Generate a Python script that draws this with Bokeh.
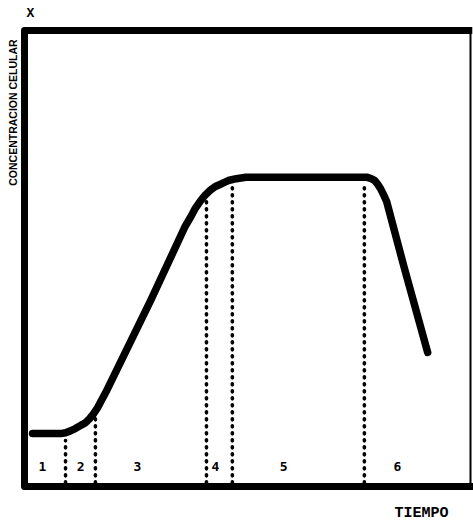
from bokeh.plotting import figure
from bokeh.models import ColumnDataSource, Range1d, Label
from bokeh.core.properties import value
from bokeh.embed import file_html
from bokeh.resources import INLINE
import math

# Growth curve of a batch culture (arbitrary units: time 0-100, concentration 0-100)
tiempo = [1.8, 7.0, 8.1, 9.2, 10.3, 11.4, 12.6, 13.7, 14.6, 15.5, 16.4, 17.0, 18.2,
          28.3, 35.9, 37.2, 38.3, 39.5, 40.6, 41.7, 42.8, 44.2, 45.7, 47.5, 49.6,
          76.9, 77.8, 78.5, 79.1, 79.8, 80.5, 81.2, 85.0, 90.4]
concentracion = [11.6, 11.6, 11.6, 11.8, 12.2, 12.7, 13.4, 14.0, 14.9, 16.0, 17.3, 18.4, 20.6,
                 40.8, 56.8, 59.0, 61.0, 62.7, 64.0, 65.0, 65.8, 66.4, 67.1, 67.5, 67.8,
                 67.8, 67.5, 67.1, 66.4, 65.4, 64.0, 62.5, 48.5, 29.4]

# Phase boundaries (time) and the height where each dotted line meets the curve
limites = [9.2, 15.9, 40.8, 46.6, 76.2]
limites_alto = [10.1, 15.6, 63.4, 66.7, 66.7]

# Phase numbers and their centres
fases = ["1", "2", "3", "4", "5", "6"]
fases_t = [4.0, 12.6, 25.3, 42.8, 58.1, 83.6]
fases_c = 4.4

p = figure(width=473, height=525, output_backend="svg", toolbar_location=None,
           x_range=Range1d(-5.381, 100.673), y_range=Range1d(-8.553, 106.579),
           min_border=0, x_axis_location=None, y_axis_location=None)
p.grid.visible = False
p.outline_line_color = None
p.background_fill_color = "white"

# dotted phase boundaries
for t, top in zip(limites, limites_alto):
    p.line([t, t], [0.8, top], line_color="black", line_width=3.6,
           line_dash="1 6", line_cap="round")

# growth curve
p.line(tiempo, concentracion, line_color="black", line_width=7.5,
       line_cap="round", line_join="round")

# frame: heavy left, top and bottom edges, light right edge
p.line([100.4, 0, 0, 100.7], [100, 100, 0, 0], line_color="black", line_width=7,
       line_join="round", line_cap="butt")
p.line([100, 100], [100, 0], line_color="black", line_width=2)

src = ColumnDataSource(dict(x=fases_t, y=[fases_c] * len(fases), t=fases))
p.text(x="x", y="y", text="t", source=src, text_font=value("DejaVu Sans Mono"),
       text_font_style="bold", text_font_size="13px", text_align="center",
       text_baseline="middle", text_color="black")

p.add_layout(Label(x=1.3, y=103.7, text="X", text_font="Liberation Mono",
                   text_font_style="bold", text_font_size="13px",
                   text_align="center", text_baseline="middle", text_color="black"))
p.add_layout(Label(x=89.0, y=-5.9, text="TIEMPO", text_font="Liberation Mono",
                   text_font_style="bold", text_font_size="15px",
                   text_align="center", text_baseline="middle", text_color="black"))
p.add_layout(Label(x=-2.5, y=82.0, text="CONCENTRACION CELULAR", angle=math.pi / 2,
                   text_font="Liberation Sans", text_font_style="bold",
                   text_font_size="10.5px", text_align="center",
                   text_baseline="middle", text_color="black"))

open("out.html", "w").write(file_html(p, INLINE))
